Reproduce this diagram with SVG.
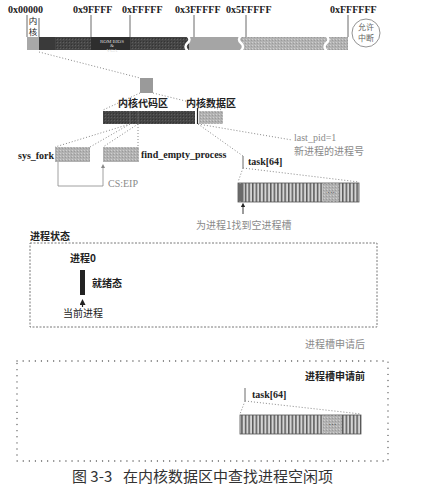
<svg xmlns="http://www.w3.org/2000/svg" width="427" height="498" viewBox="0 0 427 498">
<style>
text{font-family:"Liberation Serif","Noto Sans CJK SC",serif;fill:#222}
.hex{font-size:10px;font-weight:bold}
.lb{font-size:10px;font-weight:bold}
.cn{font-size:10px;font-weight:bold;font-family:"Noto Sans CJK SC",sans-serif}
.gr{font-size:10px;fill:#8a8a8a}
.grc{font-size:10px;fill:#8a8a8a;font-family:"Noto Sans CJK SC",sans-serif}
.tick{stroke:#444;stroke-width:0.8;fill:none}
.dot{stroke:#888;stroke-width:1;stroke-dasharray:1 2;fill:none}
.brk{stroke:#fff;stroke-width:2.5;fill:none}
.cap{font-size:15px;font-family:"Noto Sans CJK SC",sans-serif;fill:#333}
</style>
<defs>
<pattern id="tex" width="3" height="3" patternUnits="userSpaceOnUse">
<rect width="3" height="3" fill="#454545"/><rect width="1" height="1" fill="#5e5e5e"/><rect x="2" y="2" width="1" height="1" fill="#333"/>
</pattern>
<pattern id="tex2" width="3" height="3" patternUnits="userSpaceOnUse">
<rect width="3" height="3" fill="#b2b2b2"/><rect width="1" height="1" fill="#cfcfcf"/><rect x="2" y="1" width="1" height="1" fill="#9a9a9a"/>
</pattern>
<pattern id="stripe" width="3.6" height="10" patternUnits="userSpaceOnUse">
<rect width="3.6" height="10" fill="#d4d4d4"/><rect width="1.5" height="10" fill="#5a5a5a"/>
</pattern>
<marker id="arr" viewBox="0 0 6 6" refX="3" refY="3" markerWidth="5" markerHeight="5" orient="auto">
<path d="M0,0 L6,3 L0,6 z" fill="#222"/>
</marker>
<marker id="arrg" viewBox="0 0 6 6" refX="3" refY="3" markerWidth="5" markerHeight="5" orient="auto">
<path d="M0,0 L6,3 L0,6 z" fill="#888"/>
</marker>
</defs>

<g id="memory-bar">
<rect x="27" y="37" width="12" height="13" fill="#a8a8a8"/>
<rect x="39" y="37" width="150" height="13" fill="url(#tex)"/>
<rect x="39" y="37" width="16" height="13" fill="#3a3a3a"/>
<rect x="91" y="37" width="39" height="13" fill="#2e2e2e"/>
<rect x="189" y="37" width="53" height="13" fill="#a5a5a5"/>
<rect x="242" y="37" width="106" height="13" fill="url(#tex2)"/>
<path class="brk" d="M187.5,36 q4,3.5 0,7 q-4,3.5 0,7.5"/>
<path class="brk" d="M241,36 q-4,3.5 0,7 q4,3.5 0,7.5"/>
<path class="brk" d="M326.5,36 q4,3.5 0,7 q-4,3.5 0,7.5"/>
<text x="112" y="42.5" text-anchor="middle" style="font-size:5px;fill:#ddd">ROM BIOS</text>
<text x="112" y="47" text-anchor="middle" style="font-size:5px;fill:#ddd">&amp;</text>
<text x="112" y="51.5" text-anchor="middle" style="font-size:5px;fill:#ddd">VGA</text>
<line class="tick" x1="27" y1="15" x2="27" y2="37"/>
<line class="tick" x1="39" y1="18" x2="39" y2="37"/>
<line class="tick" x1="91" y1="15" x2="91" y2="37"/>
<line class="tick" x1="130" y1="15" x2="130" y2="37"/>
<line class="tick" x1="194" y1="15" x2="194" y2="37"/>
<line class="tick" x1="246" y1="15" x2="246" y2="37"/>
<line class="tick" x1="348" y1="15" x2="348" y2="37"/>
<text class="hex" x="8" y="13">0x00000</text>
<text class="hex" x="73" y="13">0x9FFFF</text>
<text class="hex" x="122" y="13">0xFFFFF</text>
<text class="hex" x="175" y="13">0x3FFFFF</text>
<text class="hex" x="226" y="13">0x5FFFFF</text>
<text class="hex" x="330" y="13">0xFFFFFF</text>
<text x="33" y="24" text-anchor="middle" style="font-size:8.5px;font-family:'Noto Sans CJK SC',sans-serif">内</text>
<text x="33" y="35" text-anchor="middle" style="font-size:8.5px;font-family:'Noto Sans CJK SC',sans-serif">核</text>
</g>

<g id="interrupt">
<circle cx="366" cy="33" r="14" fill="#fff" stroke="#777" stroke-width="0.8"/>
<text x="366" y="30" text-anchor="middle" style="font-size:8px;fill:#666;font-family:'Noto Sans CJK SC',sans-serif">允许</text>
<text x="366" y="41" text-anchor="middle" style="font-size:8px;fill:#666;font-family:'Noto Sans CJK SC',sans-serif">中断</text>
</g>

<g id="kernel-square">
<rect x="140" y="78" width="13" height="15" fill="#9a9a9a"/>
</g>

<g id="kernel-bar">
<rect x="103" y="111" width="92" height="13" fill="url(#tex)"/>
<rect x="199" y="111" width="24" height="13" fill="url(#tex2)"/>
<line x1="197.5" y1="108" x2="197.5" y2="124" stroke="#222" stroke-width="1.2"/>
<line x1="130" y1="111" x2="130" y2="124" stroke="#777" stroke-width="0.6"/>
<line x1="138" y1="111" x2="138" y2="124" stroke="#777" stroke-width="0.6"/>
<text class="cn" x="118" y="107">内核代码区</text>
<text class="cn" x="186" y="107">内核数据区</text>
</g>

<g id="sys_fork">
<rect x="55" y="147" width="35" height="15" fill="url(#tex2)"/>
<text class="lb" x="18" y="159">sys_fork</text>
</g>

<g id="find_empty_process">
<rect x="103" y="147" width="36" height="15" fill="url(#tex2)"/>
<text class="lb" x="141" y="158">find_empty_process</text>
</g>

<g id="last_pid">
<text class="gr" x="294" y="141">last_pid=1</text>
<text class="grc" x="294" y="155">新进程的进程号</text>
</g>

<g id="task-after">
<line class="tick" x1="243" y1="156" x2="243" y2="168"/>
<text class="lb" x="248" y="165">task[64]</text>
<rect x="238" y="183" width="121" height="19" fill="url(#stripe)" stroke="#555" stroke-width="0.8"/>
<rect x="238.5" y="183.5" width="5" height="18" fill="#6a6a6a"/>
<rect x="323" y="183.5" width="16" height="18" fill="url(#tex2)"/>
<text x="331" y="195" text-anchor="middle" style="font-size:8px;fill:#333">···</text>
<text class="grc" x="196" y="229">为进程1找到空进程槽</text>
</g>

<g id="state-box">
<text class="cn" x="30" y="240">进程状态</text>
<rect x="30" y="243" width="347" height="84" fill="none" stroke="#555" stroke-width="0.8" stroke-dasharray="2 1.5"/>
<text class="cn" x="70" y="262">进程0</text>
<rect x="80" y="270" width="5" height="25" fill="#222"/>
<text class="cn" x="92" y="287">就绪态</text>
<text class="cn" x="63" y="317" style="font-weight:normal">当前进程</text>
</g>

<g id="before-box">
<text class="grc" x="305" y="348">进程槽申请后</text>
<rect x="17" y="361" width="371" height="100" fill="none" stroke="#555" stroke-width="1.3" stroke-linecap="round" stroke-dasharray="0.1 6"/>
<text class="cn" x="305" y="380">进程槽申请前</text>
<line class="tick" x1="245" y1="388" x2="245" y2="401"/>
<text class="lb" x="252" y="398">task[64]</text>
<rect x="240" y="415" width="121" height="19" fill="url(#stripe)" stroke="#555" stroke-width="0.8"/>
<rect x="323" y="415.5" width="19" height="18" fill="url(#tex2)"/>
<text x="332.5" y="427" text-anchor="middle" style="font-size:8px;fill:#333">···</text>
</g>

<g id="connectors">
<line class="dot" x1="39" y1="52" x2="140" y2="78"/>
<line class="dot" x1="140" y1="93" x2="103" y2="110"/>
<line class="dot" x1="153" y1="93" x2="222" y2="110"/>
<line class="dot" x1="130" y1="124" x2="55" y2="147"/>
<line class="dot" x1="130" y1="124" x2="90" y2="147"/>
<line class="dot" x1="138" y1="124" x2="103" y2="147"/>
<line class="dot" x1="138" y1="124" x2="138" y2="147"/>
<line class="dot" x1="198" y1="124" x2="292" y2="140"/>
<line class="dot" x1="198" y1="124" x2="243" y2="156"/>
<line class="dot" x1="243" y1="168" x2="238" y2="182"/>
<line class="dot" x1="243" y1="168" x2="359" y2="182"/>
<line class="dot" x1="245" y1="401" x2="240" y2="414"/>
<line class="dot" x1="245" y1="401" x2="361" y2="414"/>
<polyline points="58,162 58,186 103,186 103,166" fill="none" stroke="#888" stroke-width="0.8" marker-end="url(#arrg)"/>
<text class="gr" x="108" y="187">CS:EIP</text>
<line x1="243" y1="214" x2="243" y2="205" stroke="#222" stroke-width="0.9" marker-end="url(#arr)"/>
<line x1="82.5" y1="307" x2="82.5" y2="302" stroke="#222" stroke-width="1.2" marker-end="url(#arr)"/>
</g>

<text class="cap" x="72" y="482">图 3-3</text>
<text class="cap" x="123" y="482">在内核数据区中查找进程空闲项</text>
</svg>
